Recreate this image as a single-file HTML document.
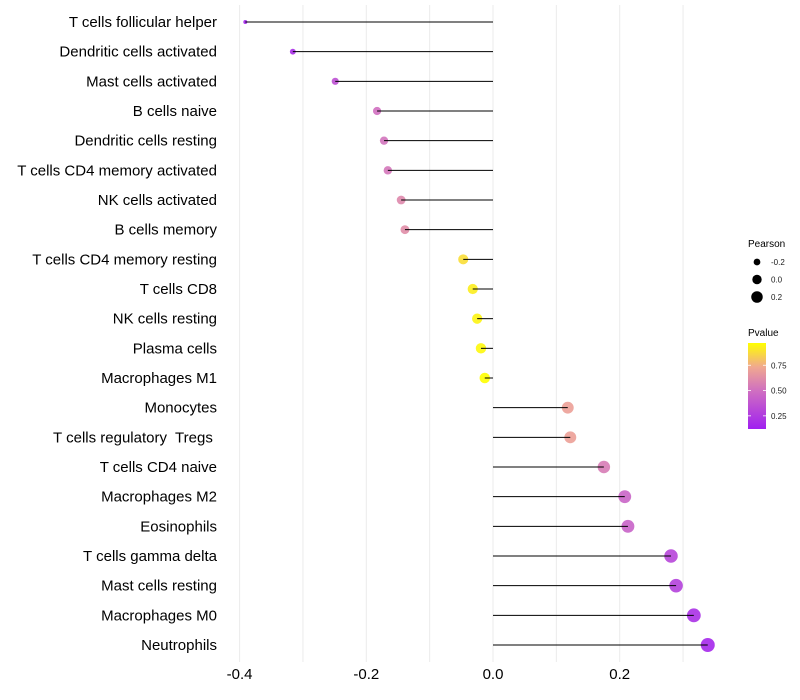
<!DOCTYPE html>
<html><head><meta charset="utf-8"><style>
html,body{margin:0;padding:0;background:#fff;}
svg{display:block;font-family:"Liberation Sans",Arial,sans-serif;}
</style></head><body>
<svg id="chart" width="800" height="700" viewBox="0 0 800 700">
<g id="grid"></g>
<g id="rows"></g>
<g id="xaxis"></g>
<g id="legend">
<text x="748" y="247" font-size="10" fill="#000">Pearson</text>
<text x="748" y="336" font-size="10" fill="#000">Pvalue</text>
<defs><linearGradient id="pg" x1="0" y1="1" x2="0" y2="0">
<stop offset="0" stop-color="#a020f0"/><stop offset="0.45" stop-color="#d070c0"/><stop offset="0.72" stop-color="#f0a890"/><stop offset="1" stop-color="#ffff00"/>
</linearGradient></defs>
<rect x="748" y="343" width="18" height="86" fill="url(#pg)"/>
</g>
</svg>
<script>
const categories=["T cells follicular helper","Dendritic cells activated","Mast cells activated","B cells naive","Dendritic cells resting","T cells CD4 memory activated","NK cells activated","B cells memory","T cells CD4 memory resting","T cells CD8","NK cells resting","Plasma cells","Macrophages M1","Monocytes","T cells regulatory  Tregs ","T cells CD4 naive","Macrophages M2","Eosinophils","T cells gamma delta","Mast cells resting","Macrophages M0","Neutrophils"];
const pearson=[-0.391,-0.316,-0.249,-0.183,-0.172,-0.166,-0.145,-0.139,-0.047,-0.032,-0.025,-0.019,-0.013,0.118,0.122,0.175,0.208,0.213,0.281,0.289,0.317,0.339];
const pvalue=[0.14,0.18,0.35,0.5,0.52,0.53,0.6,0.62,0.88,0.92,0.94,0.95,0.97,0.7,0.7,0.55,0.45,0.44,0.3,0.28,0.2,0.16];
const xTicks=[-0.4,-0.2,0.0,0.2];
const xTickLabels=["-0.4","-0.2","0.0","0.2"];
const gridVals=[-0.4,-0.3,-0.2,-0.1,0,0.1,0.2,0.3];
const sizeLegendVals=[-0.2,0.0,0.2];
const colorLegendVals=[0.25,0.5,0.75];
const NS="http://www.w3.org/2000/svg";
const x=v=>493+v*633.5;
const y=i=>22+i*(623/21);
const r=v=>Math.sqrt(Math.max(3,28.1+61.6*v));
const pMin=0.12,pMax=0.97;
const legY=p=>429-(p-pMin)/(pMax-pMin)*86;
const stops=[[0,[160,32,240]],[0.45,[208,112,192]],[0.72,[240,168,144]],[1,[255,255,0]]];
function col(p){let t=(p-pMin)/(pMax-pMin);t=Math.max(0,Math.min(1,t));
for(let k=1;k<stops.length;k++){if(t<=stops[k][0]){const a=stops[k-1],b=stops[k];const u=(t-a[0])/(b[0]-a[0]);
return "rgb("+a[1].map((c,j)=>Math.round(c+(b[1][j]-c)*u)).join(",")+")";}}return "rgb(255,255,0)";}
function mk(tag,attrs,parent){const e=document.createElementNS(NS,tag);for(const k in attrs)e.setAttribute(k,attrs[k]);parent.appendChild(e);return e;}
const grid=document.getElementById('grid');
gridVals.forEach(g=>{const l=mk('line',{x1:x(g),x2:x(g),y1:5,y2:662,stroke:'#ebebeb','stroke-width':1},grid);

});
const rows=document.getElementById('rows');
categories.forEach((c,i)=>{
const t=mk('text',{x:217,y:y(i)+5,'font-size':15,'text-anchor':'end',fill:'#000'},rows);t.textContent=c;
t.style.whiteSpace='pre';


const p=mk('circle',{cx:x(pearson[i]),cy:y(i),r:r(pearson[i]),fill:col(pvalue[i]),'fill-opacity':0.9},rows);


const s=mk('line',{x1:x(0),x2:x(pearson[i]),y1:y(i),y2:y(i),stroke:'#000','stroke-width':1},rows);


});
const xa=document.getElementById('xaxis');
xTicks.forEach((v,i)=>{const t=mk('text',{x:x(v),y:679,'font-size':15,'text-anchor':'middle',fill:'#000'},xa);t.textContent=xTickLabels[i];

});
const lg=document.getElementById('legend');
sizeLegendVals.forEach((v,i)=>{const cy=262+i*17.5;
const c=mk('circle',{cx:757,cy:cy,r:r(v)-0.6,fill:'#000'},lg);


const t=mk('text',{x:771,y:cy+3,'font-size':8,fill:'#1a1a1a'},lg);t.textContent=v.toFixed(1);

});
colorLegendVals.forEach(v=>{const yy=legY(v);
const a=mk('line',{x1:748,x2:751,y1:yy,y2:yy,stroke:'#fff','stroke-width':0.8},lg);


const b=mk('line',{x1:763,x2:766,y1:yy,y2:yy,stroke:'#fff','stroke-width':0.8},lg);


const t=mk('text',{x:771,y:yy+3,'font-size':8,fill:'#1a1a1a'},lg);t.textContent=v.toFixed(2);

});
</script>
</body></html>
